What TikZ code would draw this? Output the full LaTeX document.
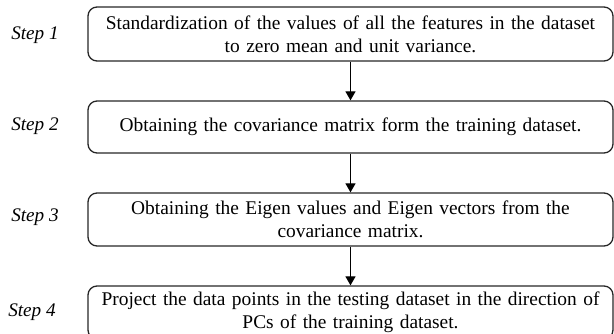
\documentclass[tikz,border=0pt]{standalone}
\usepackage{fontspec}
\setmainfont{Liberation Serif}
\usetikzlibrary{arrows.meta}
\begin{document}
\begin{tikzpicture}[x=1pt,y=-1pt,
	stepbox/.style={draw=black!85, rounded corners=9pt, line width=1.3pt, minimum width=525pt, text width=520pt, align=center, inner sep=0pt, font=\fontsize{19.4}{23}\selectfont},
	steplabel/.style={font=\fontsize{19.2}{22}\selectfont\itshape},
	flow/.style={line width=1.3pt, -{Triangle[length=9pt,width=10pt]}}]
	\useasboundingbox (0,0) rectangle (614,334);
	\clip (0,0) rectangle (614,334);
	% boxes
	\node [stepbox, minimum height=54pt] (s1) at (350.5,34) {Standardization of the values of all the features in the dataset\\to zero mean and unit variance.};
	\node [stepbox, minimum height=52pt] (s2) at (350.5,127) {Obtaining the covariance matrix form the training dataset.};
	\node [stepbox, minimum height=53pt] (s3) at (350.5,219.5) {Obtaining the Eigen values and Eigen vectors from the\\covariance matrix.};
	\node [stepbox, minimum height=53pt] (s4) at (350.5,312.5) {Project the data points in the testing dataset in the direction of\\PCs of the training dataset.};
	% labels
	\node [steplabel] (l1) at (35,35) {Step 1};
	\node [steplabel] (l2) at (35,126) {Step 2};
	\node [steplabel] (l3) at (35,217) {Step 3};
	\node [steplabel] (l4) at (32,312) {Step 4};
	% arrows
	\draw [flow] (s1) -- (s2);
	\draw [flow] (s2) -- (s3);
	\draw [flow] (s3) -- (s4);
\end{tikzpicture}
\end{document}
